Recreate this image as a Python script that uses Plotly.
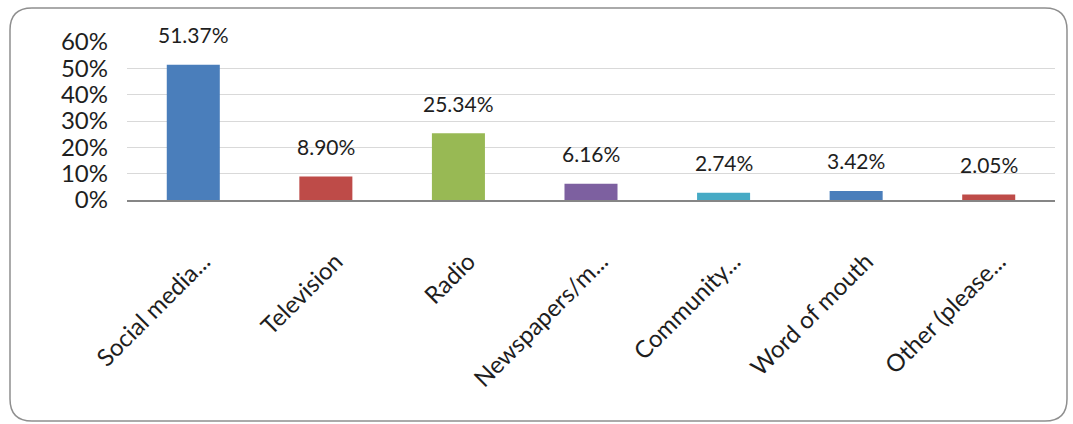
import plotly.graph_objects as go

# Share of respondents by information source
categories = ["Social media...", "Television", "Radio", "Newspapers/m...",
              "Community...", "Word of mouth", "Other (please..."]
shares = [51.37, 8.90, 25.34, 6.16, 2.74, 3.42, 2.05]
bar_colors = ["#4A7EBB", "#BE4B48", "#98B954", "#7D60A0", "#46AAC5", "#4A7EBB", "#BE4B48"]
y_ticks = [0, 10, 20, 30, 40, 50, 60]
y_tick_text = [f"{t}%" for t in y_ticks]

FONT = "Lato"
TEXT = "#1e1e1e"

fig = go.Figure()
fig.add_trace(go.Bar(
    x=categories,
    y=shares,
    marker=dict(color=bar_colors, line=dict(width=0)),
    hoverinfo="skip",
))

# Value labels above each bar
for cat, v in zip(categories, shares):
    fig.add_annotation(
        x=cat, y=v, text=f"{v:.2f}%", showarrow=False,
        yanchor="middle", yshift=30,
        font=dict(family=FONT, size=21, color=TEXT),
    )

W, H = 1073, 424
ML, MR, MT, MB = 127, 18, 42, 224
pw, ph = W - ML - MR, H - MT - MB

# Rounded outer frame, expressed in paper units around the plot area
def P(x, y):
    a, b = (x - ML) / pw, (H - MB - y) / ph
    return f"{a:.5f},{b:.5f}"

x0, y0, x1, y1, r = 10, 8, 1067, 421, 22
path = (f"M {P(x0 + r, y0)} L {P(x1 - r, y0)} Q {P(x1, y0)} {P(x1, y0 + r)} "
        f"L {P(x1, y1 - r)} Q {P(x1, y1)} {P(x1 - r, y1)} "
        f"L {P(x0 + r, y1)} Q {P(x0, y1)} {P(x0, y1 - r)} "
        f"L {P(x0, y0 + r)} Q {P(x0, y0)} {P(x0 + r, y0)} Z")
fig.add_shape(type="path", xref="paper", yref="paper", path=path,
              line=dict(color="#8f8f8f", width=1.5), layer="below")

fig.update_layout(
    width=W, height=H,
    margin=dict(l=ML, r=MR, t=MT, b=MB, autoexpand=False),
    paper_bgcolor="white", plot_bgcolor="white",
    bargap=0.6,
    showlegend=False,
    font=dict(family=FONT, color=TEXT),
)
fig.update_yaxes(
    range=[0, 60],
    tickvals=y_ticks, ticktext=y_tick_text,
    tickfont=dict(family=FONT, size=24, color=TEXT),
    showgrid=True, gridcolor="#d9d9d9", gridwidth=1,
    zeroline=False, showline=False, ticks="",
    ticklabelstandoff=18,
)
fig.update_xaxes(
    tickangle=-45,
    tickfont=dict(family=FONT, size=24, color=TEXT),
    showline=True, linecolor="#868686", linewidth=2,
    ticks="", showgrid=False,
    ticklabelstandoff=36, ticklabelshift=10,
)

fig.write_html("out.html")
